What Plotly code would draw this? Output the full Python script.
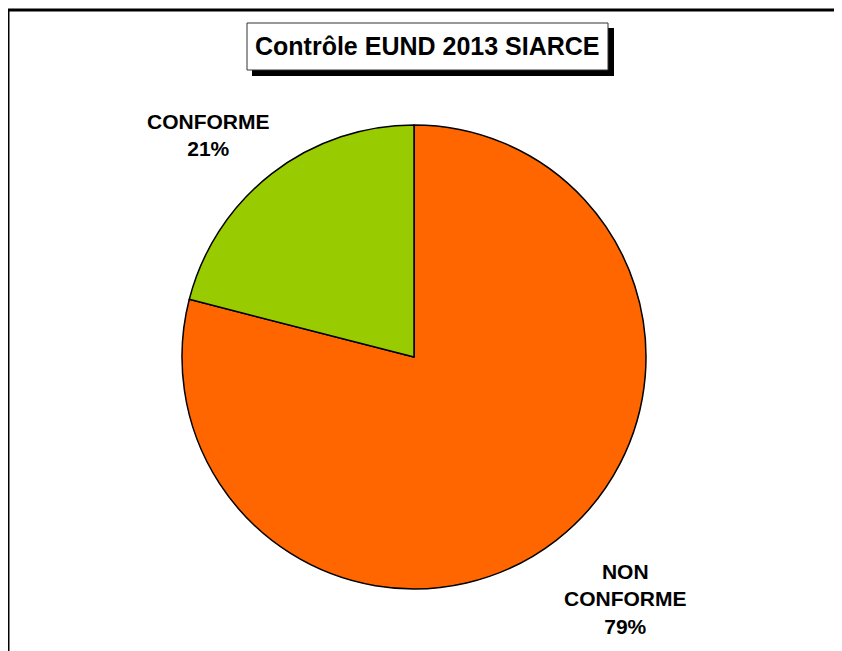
import plotly.graph_objects as go

labels = ["NON CONFORME", "CONFORME"]
values = [79, 21]
colors = ["#FF6600", "#99CC00"]
title_text = "Contrôle EUND 2013 SIARCE"

W, H = 842, 651
OFF = 8  # page body margin offset

def px(x):
    return (x - OFF) / W

def py(y):
    return 1 - (y - OFF) / H

total = sum(values)
pcts = [round(v / total * 100) for v in values]

fig = go.Figure(go.Pie(
    labels=labels,
    values=values,
    sort=False,
    direction="clockwise",
    rotation=0,
    marker=dict(colors=colors, line=dict(color="black", width=1.5)),
    textinfo="none",
    hoverinfo="label+percent",
    showlegend=False,
    domain=dict(x=[px(182), px(646)], y=[py(589), py(125)]),
))

label_texts = [
    "NON<br>CONFORME<br>%d%%" % pcts[0],
    "CONFORME<br>%d%%" % pcts[1],
]
label_pos = [(625, 599), (208, 135)]

annotations = []
for t, (x, y) in zip(label_texts, label_pos):
    annotations.append(dict(
        x=px(x), y=py(y), xref="paper", yref="paper",
        text="<b>%s</b>" % t, showarrow=False,
        font=dict(family="Arial, Liberation Sans, sans-serif", size=21, color="black"),
        xanchor="center", yanchor="middle", align="center",
    ))

annotations.append(dict(
    x=px(427.5), y=py(46.5), xref="paper", yref="paper",
    text="<b>%s</b>" % title_text, showarrow=False,
    font=dict(family="Arial, Liberation Sans, sans-serif", size=25, color="black"),
    xanchor="center", yanchor="middle",
))

shapes = [
    # outer chart border (only top & left visible)
    dict(type="rect", xref="paper", yref="paper",
         x0=px(8), y0=py(700), x1=px(900), y1=py(10),
         line=dict(color="black", width=3), fillcolor="rgba(0,0,0,0)", layer="above"),
    # title shadow
    dict(type="rect", xref="paper", yref="paper",
         x0=px(252), y0=py(76), x1=px(614), y1=py(28),
         line=dict(color="black", width=0), fillcolor="black", layer="above"),
    # title box
    dict(type="rect", xref="paper", yref="paper",
         x0=px(247), y0=py(70), x1=px(608), y1=py(23),
         line=dict(color="#333333", width=1), fillcolor="white", layer="above"),
]

fig.update_layout(
    width=W, height=H,
    margin=dict(l=0, r=0, t=0, b=0),
    paper_bgcolor="white",
    plot_bgcolor="white",
    annotations=annotations,
    shapes=shapes,
)

fig.write_html("out.html")
